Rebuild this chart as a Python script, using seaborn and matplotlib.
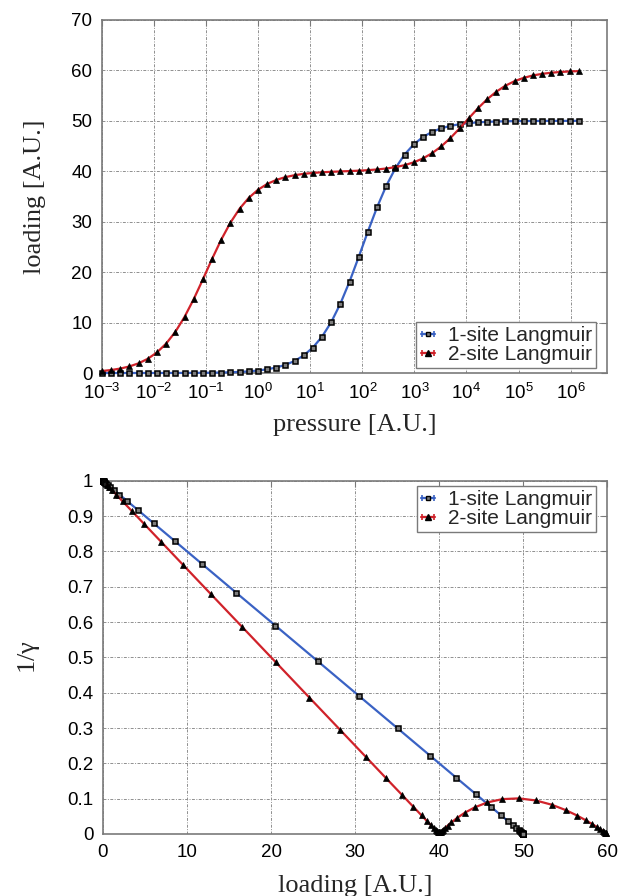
import numpy as np
import pandas as pd
import matplotlib
matplotlib.use("Agg")
import matplotlib.pyplot as plt
import seaborn as sns
from matplotlib.container import ErrorbarContainer
from matplotlib.legend_handler import HandlerErrorbar
from matplotlib.ticker import FixedLocator, FuncFormatter, NullLocator

# ---- isotherms: loading vs pressure ----
pressure = [0.001, 0.0015, 0.00225, 0.003375, 0.005063, 0.007594, 0.01139, 0.01709,
            0.02563, 0.03844, 0.05767, 0.0865, 0.1297, 0.1946, 0.2919, 0.4379, 0.6568,
            0.9853, 1.478, 2.217, 3.325, 4.988, 7.482, 11.22, 16.83, 25.25, 37.88, 56.82,
            85.22, 127.8, 191.8, 287.6, 431.4, 647.2, 970.7, 1456, 2184, 3276, 4914, 7372,
            11057, 16586, 24879, 37318, 55978, 83967, 125950, 188925, 283387, 425081,
            637621, 956432, 1434648]

loading_1site = [0.0005, 0.00075, 0.0011, 0.0017, 0.0025, 0.0038, 0.0057, 0.0085, 0.0128,
                 0.0192, 0.0288, 0.0432, 0.0648, 0.0971, 0.1455, 0.218, 0.326, 0.488,
                 0.728, 1.084, 1.609, 2.375, 3.481, 5.045, 7.204, 10.08, 13.74, 18.12,
                 23.01, 28.05, 32.86, 37.10, 40.59, 43.31, 45.33, 46.79, 47.81, 48.52,
                 49.00, 49.33, 49.55, 49.70, 49.80, 49.87, 49.91, 49.94, 49.96, 49.97,
                 49.98, 49.99, 49.99, 49.99, 50.00]

loading_2site = [0.396, 0.591, 0.880, 1.306, 1.927, 2.823, 4.090, 5.837, 8.160, 11.11,
                 14.63, 18.55, 22.59, 26.42, 29.79, 32.56, 34.71, 36.31, 37.47, 38.28,
                 38.84, 39.22, 39.49, 39.67, 39.80, 39.89, 39.97, 40.04, 40.12, 40.22,
                 40.36, 40.55, 40.82, 41.21, 41.77, 42.54, 43.58, 44.93, 46.59, 48.49,
                 50.50, 52.48, 54.27, 55.77, 56.97, 57.87, 58.53, 59.00, 59.32, 59.54,
                 59.69, 59.79, 59.86]

# ---- inverse thermodynamic factor vs loading ----
tf_loading_1site = [0.0006, 0.0009, 0.0014, 0.0021, 0.0031, 0.0047, 0.0070, 0.0105, 0.0157,
                    0.0235, 0.0353, 0.0529, 0.0793, 0.1189, 0.1781, 0.2667, 0.399, 0.596,
                    0.889, 1.322, 1.957, 2.879, 4.197, 6.042, 8.547, 11.81, 15.84, 20.52,
                    25.54, 30.51, 35.07, 38.95, 42.04, 44.40, 46.12, 47.35, 48.20, 48.78,
                    49.18, 49.45, 49.63, 49.76, 49.84, 49.89, 49.93, 49.95, 49.97, 49.98,
                    49.99, 49.99, 49.99, 50.00, 50.00]

inv_gamma_1site = [1.0, 1.0, 1.0, 1.0, 0.9999, 0.9999, 0.9999, 0.9998, 0.9997, 0.9995,
                   0.9993, 0.9989, 0.9984, 0.9976, 0.9964, 0.9947, 0.9920, 0.9881, 0.9822,
                   0.9736, 0.9609, 0.9424, 0.9161, 0.8792, 0.8291, 0.7638, 0.6831, 0.5897,
                   0.4893, 0.3898, 0.2987, 0.2211, 0.1591, 0.1120, 0.0776, 0.0531, 0.0360,
                   0.0243, 0.0163, 0.0110, 0.0073, 0.0049, 0.0033, 0.0022, 0.0015, 0.0010,
                   0.0006, 0.0004, 0.0003, 0.0002, 0.0001, 0.0001, 0.0001]

tf_loading_2site = [0.484, 0.722, 1.073, 1.588, 2.335, 3.404, 4.897, 6.922, 9.556, 12.80,
                    16.56, 20.58, 24.55, 28.18, 31.26, 33.71, 35.58, 36.94, 37.91, 38.58,
                    39.05, 39.37, 39.59, 39.74, 39.85, 39.93, 40.01, 40.08, 40.17, 40.28,
                    40.44, 40.67, 41.00, 41.46, 42.12, 43.02, 44.22, 45.73, 47.51, 49.49,
                    51.50, 53.40, 55.06, 56.41, 57.45, 58.23, 58.78, 59.17, 59.44, 59.62,
                    59.75, 59.83, 59.89]

inv_gamma_2site = [0.9879, 0.9820, 0.9732, 0.9603, 0.9416, 0.9149, 0.8776, 0.8270, 0.7611,
                   0.6799, 0.5861, 0.4856, 0.3862, 0.2956, 0.2186, 0.1572, 0.1106, 0.0766,
                   0.0524, 0.0357, 0.0242, 0.0164, 0.0113, 0.0079, 0.0059, 0.0048, 0.0044,
                   0.0049, 0.0060, 0.0082, 0.0115, 0.0164, 0.0234, 0.0329, 0.0452, 0.0598,
                   0.0753, 0.0894, 0.0987, 0.1008, 0.0949, 0.0828, 0.0676, 0.0522, 0.0387,
                   0.0277, 0.0195, 0.0134, 0.0092, 0.0062, 0.0042, 0.0028, 0.0019]

series_labels = ["1-site Langmuir", "2-site Langmuir"]
x_ticks_pressure = [1e-3, 1e-2, 1e-1, 1e0, 1e1, 1e2, 1e3, 1e4, 1e5, 1e6]
y_ticks_loading = [0, 10, 20, 30, 40, 50, 60, 70]
x_ticks_loading = [0, 10, 20, 30, 40, 50, 60]
y_ticks_inv = [0, 0.1, 0.2, 0.3, 0.4, 0.5, 0.6, 0.7, 0.8, 0.9, 1]

BLUE = "#3a62c4"
RED = "#d0222a"
GRID = "#8f8f8f"
FRAME = "#7a7a7a"

sns.set_theme(style="white")
plt.rcParams["font.family"] = ["Liberation Sans", "DejaVu Sans"]
plt.rcParams["mathtext.fontset"] = "custom"
plt.rcParams["mathtext.rm"] = "Liberation Sans"
plt.rcParams["mathtext.it"] = "Liberation Serif:italic"
plt.rcParams["mathtext.default"] = "regular"

TICK_FS = 13.5
LABEL_FS = 19
LEGEND_FS = 15

fig = plt.figure(figsize=(6.23, 8.96), dpi=100)
ax1 = fig.add_axes([0.1637, 0.5837, 0.8106, 0.3940])
ax2 = fig.add_axes([0.1653, 0.0692, 0.8095, 0.3943])

style_1 = dict(color=BLUE, linewidth=1.6, marker="s", markersize=3.6,
               markerfacecolor="#7d7d7d", markeredgecolor="black", markeredgewidth=1.1)
style_2 = dict(color=RED, linewidth=1.6, marker="^", markersize=4.6,
               markerfacecolor="black", markeredgecolor="black", markeredgewidth=0.5)

df_iso = pd.DataFrame({"pressure": pressure,
                       "one": loading_1site, "two": loading_2site})
df_tf1 = pd.DataFrame({"loading": tf_loading_1site, "inv": inv_gamma_1site})
df_tf2 = pd.DataFrame({"loading": tf_loading_2site, "inv": inv_gamma_2site})

sns.lineplot(data=df_iso, x="pressure", y="one", ax=ax1, sort=False,
             estimator=None, legend=False, clip_on=False, zorder=3, **style_1)
sns.lineplot(data=df_iso, x="pressure", y="two", ax=ax1, sort=False,
             estimator=None, legend=False, clip_on=False, zorder=3, **style_2)

sns.lineplot(data=df_tf1, x="loading", y="inv", ax=ax2, sort=False,
             estimator=None, legend=False, clip_on=False, zorder=3, **style_1)
sns.lineplot(data=df_tf2, x="loading", y="inv", ax=ax2, sort=False,
             estimator=None, legend=False, clip_on=False, zorder=3, **style_2)


def legend_handles(ax):
    handles = []
    for style, lab in zip((style_1, style_2), series_labels):
        eb = ax.errorbar([np.nan], [np.nan], xerr=[1.0], fmt="-" + style["marker"],
                         color=style["color"], ecolor=style["color"],
                         elinewidth=1.6, capsize=2.2, capthick=1.2,
                         markersize=style["markersize"] * 0.8,
                         markerfacecolor=style["markerfacecolor"],
                         markeredgecolor="black", label=lab)
        handles.append(eb)
    return handles


def style_axes(ax):
    ax.grid(True, color=GRID, linewidth=0.7, linestyle=(0, (3, 1.5, 1, 1.5)))
    for sp in ax.spines.values():
        sp.set_color(FRAME)
        sp.set_linewidth(1.2)
        sp.set_visible(True)
    ax.tick_params(direction="in", top=True, right=True, length=4, width=0.8,
                   color=FRAME, labelsize=TICK_FS, labelcolor="black", pad=7)
    ax.set_axisbelow(True)


legend_kw = dict(handler_map={ErrorbarContainer: HandlerErrorbar(xerr_size=0.3)},
                 fontsize=LEGEND_FS, handlelength=0.7, handletextpad=0.6,
                 labelspacing=0.0, borderpad=0.2, borderaxespad=0.0,
                 fancybox=False, framealpha=1.0, edgecolor=FRAME)

# top panel
ax1.set_xscale("log")
ax1.set_xlim(1e-3, 5e6)
ax1.set_ylim(0, 70)
ax1.xaxis.set_major_locator(FixedLocator(x_ticks_pressure))
ax1.xaxis.set_minor_locator(NullLocator())
ax1.yaxis.set_major_locator(FixedLocator(y_ticks_loading))
style_axes(ax1)
ax1.set_xlabel("pressure [A.U.]", fontsize=LABEL_FS, family="Liberation Serif", labelpad=8)
ax1.set_ylabel("loading [A.U.]", fontsize=LABEL_FS, family="Liberation Serif", labelpad=18)
leg1 = ax1.legend(handles=legend_handles(ax1), labels=series_labels,
                  loc="lower right", bbox_to_anchor=(0.978, 0.014), **legend_kw)
leg1.get_frame().set_linewidth(1.0)

# bottom panel
ax2.set_xlim(0, 60)
ax2.set_ylim(0, 1)
ax2.xaxis.set_major_locator(FixedLocator(x_ticks_loading))
ax2.yaxis.set_major_locator(FixedLocator(y_ticks_inv))
ax2.yaxis.set_major_formatter(FuncFormatter(lambda v, p: f"{v:g}"))
style_axes(ax2)
ax2.set_xlabel("loading [A.U.]", fontsize=LABEL_FS, family="Liberation Serif", labelpad=10)
ax2.set_ylabel(r"1/$\gamma$", fontsize=LABEL_FS, family="Liberation Serif", labelpad=18)
leg2 = ax2.legend(handles=legend_handles(ax2), labels=series_labels,
                  loc="upper right", bbox_to_anchor=(0.978, 0.985), **legend_kw)
leg2.get_frame().set_linewidth(1.0)

fig.savefig("out.png", dpi=100, facecolor="white")
